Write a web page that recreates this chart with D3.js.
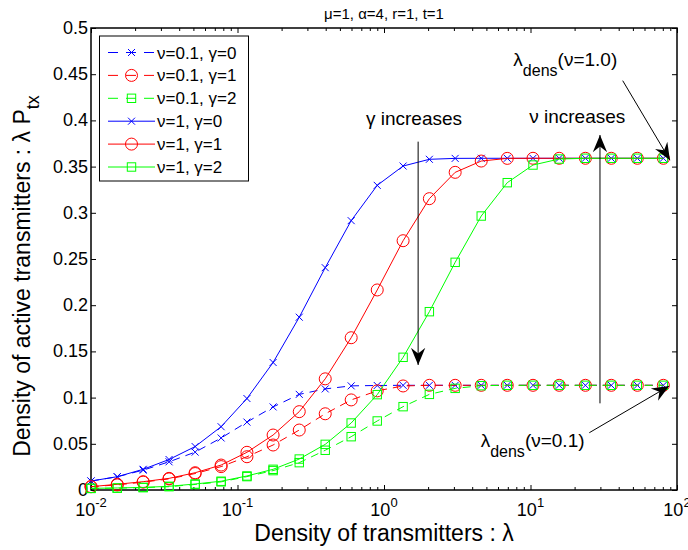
<!DOCTYPE html>
<html>
<head>
<meta charset="utf-8">
<script src="https://cdn.jsdelivr.net/npm/d3@7"></script>
<style>
  body { margin: 0; background: #fff; }
  text { font-family: "Liberation Sans", Arial, Helvetica, sans-serif; fill: #000; }
</style>
</head>
<body>
<div id="chart"></div>
<script>
// x values (density of transmitters lambda)
var lambda = [0.01, 0.0151, 0.0227, 0.0341, 0.0514, 0.0773, 0.116, 0.175, 0.264, 0.397,
  0.597, 0.899, 1.35, 2.04, 3.06, 4.61, 6.94, 10.4, 15.7, 23.7, 35.6, 53.6, 80.7];

// nu = 0.1 (dashed)
var nu01_g0 = [0.0097, 0.0143, 0.0215, 0.0305, 0.041, 0.0563, 0.0735, 0.0899, 0.1035, 0.1094,
  0.1127, 0.1131, 0.1133, 0.1133, 0.1133, 0.1133, 0.1133, 0.1133, 0.1133, 0.1133, 0.1133, 0.1133, 0.1133];
var nu01_g1 = [0.0036, 0.0055, 0.0085, 0.012, 0.0178, 0.0253, 0.036, 0.0487, 0.0649, 0.0825,
  0.0975, 0.1073, 0.1126, 0.1133, 0.1133, 0.1133, 0.1133, 0.1133, 0.1133, 0.1133, 0.1133, 0.1133, 0.1133];
var nu01_g2 = [0.0017, 0.002, 0.0026, 0.0036, 0.006, 0.0088, 0.0145, 0.021, 0.0296, 0.043,
  0.0577, 0.0747, 0.0902, 0.1035, 0.11, 0.1129, 0.1133, 0.1133, 0.1133, 0.1133, 0.1133, 0.1133, 0.1133];

// nu = 1 (solid)
var nu1_g0 = [0.0097, 0.0144, 0.0224, 0.033, 0.047, 0.0685, 0.099, 0.138, 0.187, 0.2406,
  0.2915, 0.3297, 0.3506, 0.3579, 0.3589, 0.359, 0.359, 0.359, 0.359, 0.359, 0.359, 0.359, 0.359];
var nu1_g1 = [0.0036, 0.0062, 0.009, 0.0126, 0.0187, 0.027, 0.0408, 0.0595, 0.0848, 0.1203,
  0.1648, 0.2165, 0.2698, 0.3153, 0.3438, 0.356, 0.3589, 0.359, 0.359, 0.359, 0.359, 0.359, 0.359];
var nu1_g2 = [0.0018, 0.0022, 0.0028, 0.004, 0.0065, 0.0095, 0.0152, 0.0224, 0.0335, 0.0494,
  0.0725, 0.1032, 0.1436, 0.193, 0.2464, 0.2965, 0.3326, 0.3517, 0.3582, 0.359, 0.359, 0.359, 0.359];

var seriesNames = ["ν=0.1, γ=0", "ν=0.1, γ=1", "ν=0.1, γ=2", "ν=1, γ=0", "ν=1, γ=1", "ν=1, γ=2"];
var seriesValues = [nu01_g0, nu01_g1, nu01_g2, nu1_g0, nu1_g1, nu1_g2];
var seriesColors = ["#0000ff", "#ff0000", "#00ff00", "#0000ff", "#ff0000", "#00ff00"];
var seriesMarkers = ["x", "o", "s", "x", "o", "s"];
var seriesDashed = [true, true, true, false, false, false];

// ticks
var xTicks = [0.01, 0.1, 1, 10, 100];
var xTickExp = ["-2", "-1", "0", "1", "2"];
var yTicks = [0, 0.05, 0.1, 0.15, 0.2, 0.25, 0.3, 0.35, 0.4, 0.45, 0.5];
var yTickLabels = ["0", "0.05", "0.1", "0.15", "0.2", "0.25", "0.3", "0.35", "0.4", "0.45", "0.5"];

// annotations in data coordinates
var arrows = [
  { x1: 1.71, y1: 0.377, x2: 1.71, y2: 0.1353 },
  { x1: 29.8, y1: 0.0938, x2: 29.8, y2: 0.3842 },
  { x1: 42.6, y1: 0.443, x2: 89.5, y2: 0.357 },
  { x1: 25.2, y1: 0.062, x2: 88.5, y2: 0.1126 }
];

var W = 688, H = 550;
var mLeft = 91, mRight = 677, mTop = 28, mBottom = 490;

var svg = d3.select("#chart")
  .append("svg")
  .attr("width", W)
  .attr("height", H);

svg.append("rect").attr("width", W).attr("height", H).attr("fill", "#fff");

var x = d3.scaleLog().domain([0.01, 100]).range([mLeft, mRight]);
var y = d3.scaleLinear().domain([0, 0.5]).range([mBottom, mTop]);

//minor ticks for the log axis
var minorTicks = x.ticks().filter(function(d) {
  return xTicks.some(function(t) { return Math.abs(t - d) / t < 1e-6; }) == false;
});

// bottom axis
var gx = svg.append("g")
  .attr("transform", "translate(0," + mBottom + ")")
  .call(d3.axisBottom(x).tickValues(xTicks).tickSize(-5).tickSizeOuter(0).tickFormat(""));
gx.append("g")
  .call(d3.axisBottom(x).tickValues(minorTicks).tickSize(-3).tickSizeOuter(0).tickFormat(""));
// top axis
var gxt = svg.append("g")
  .attr("transform", "translate(0," + mTop + ")")
  .call(d3.axisTop(x).tickValues(xTicks).tickSize(-5).tickSizeOuter(0).tickFormat(""));
gxt.append("g")
  .call(d3.axisTop(x).tickValues(minorTicks).tickSize(-3).tickSizeOuter(0).tickFormat(""));
// left and right axes
svg.append("g")
  .attr("transform", "translate(" + mLeft + ",0)")
  .call(d3.axisLeft(y).tickValues(yTicks).tickSize(-5).tickSizeOuter(0).tickFormat(""));
svg.append("g")
  .attr("transform", "translate(" + mRight + ",0)")
  .call(d3.axisRight(y).tickValues(yTicks).tickSize(-5).tickSizeOuter(0).tickFormat(""));

svg.selectAll(".domain").remove();
svg.selectAll(".tick line").attr("stroke", "#000").attr("stroke-width", 1);

// x tick labels 10^n
xTicks.forEach(function(d, i) {
  var t = svg.append("text")
    .attr("x", x(d))
    .attr("y", mBottom + 26)
    .attr("text-anchor", "middle")
    .style("font-size", "18px");
  t.append("tspan").text("10");
  t.append("tspan").attr("dy", -9).style("font-size", "13px").text(xTickExp[i]);
});

// y tick labels
yTicks.forEach(function(d, i) {
  svg.append("text")
    .attr("x", mLeft - 3)
    .attr("y", y(d) + 6)
    .attr("text-anchor", "end")
    .style("font-size", "18px")
    .text(yTickLabels[i]);
});

// plot box
svg.append("rect")
  .attr("x", mLeft).attr("y", mTop)
  .attr("width", mRight - mLeft).attr("height", mBottom - mTop)
  .attr("fill", "none")
  .attr("stroke", "#000")
  .attr("stroke-width", 1.5);

function drawMarker(g, type, cx, cy, color) {
  if (type == "x") {
    g.append("path")
      .attr("d", "M" + (cx - 3.5) + "," + (cy - 3.5) + "L" + (cx + 3.5) + "," + (cy + 3.5) +
        "M" + (cx - 3.5) + "," + (cy + 3.5) + "L" + (cx + 3.5) + "," + (cy - 3.5))
      .attr("stroke", color).attr("stroke-width", 1).attr("fill", "none");
  } else if (type == "o") {
    g.append("circle")
      .attr("cx", cx).attr("cy", cy).attr("r", 6)
      .attr("stroke", color).attr("stroke-width", 1).attr("fill", "none");
  } else {
    g.append("rect")
      .attr("x", cx - 4.2).attr("y", cy - 4.2).attr("width", 8.4).attr("height", 8.4)
      .attr("stroke", color).attr("stroke-width", 1).attr("fill", "none");
  }
}

var line = d3.line()
  .x(function(d) { return x(d[0]); })
  .y(function(d) { return y(d[1]); });

//draw series
seriesValues.forEach(function(vals, s) {
  var pts = vals.map(function(v, i) { return [lambda[i], v]; });
  var g = svg.append("g");
  g.append("path")
    .datum(pts)
    .attr("d", line)
    .attr("fill", "none")
    .attr("stroke", seriesColors[s])
    .attr("stroke-width", 1)
    .attr("stroke-dasharray", seriesDashed[s] ? "8,6" : null);
  pts.forEach(function(p) {
    drawMarker(g, seriesMarkers[s], x(p[0]), y(p[1]), seriesColors[s]);
  });
});

//legend
var legend = svg.append("g");
legend.append("rect")
  .attr("x", 99.5).attr("y", 36)
  .attr("width", 149).attr("height", 145)
  .attr("fill", "#fff").attr("stroke", "#000").attr("stroke-width", 1);
seriesNames.forEach(function(name, i) {
  var ly = 52.5 + i * 22.9;
  legend.append("line")
    .attr("x1", 108).attr("x2", 155)
    .attr("y1", ly).attr("y2", ly)
    .attr("stroke", seriesColors[i])
    .attr("stroke-width", 1)
    .attr("stroke-dasharray", seriesDashed[i] ? "10,8" : null);
  drawMarker(legend, seriesMarkers[i], 131.5, ly, seriesColors[i]);
  legend.append("text")
    .attr("x", 157)
    .attr("y", ly + 6)
    .style("font-size", "17px")
    .text(name);
});

// arrows
svg.append("defs").append("marker")
  .attr("id", "head")
  .attr("markerUnits", "userSpaceOnUse")
  .attr("markerWidth", 20).attr("markerHeight", 20)
  .attr("viewBox", "-12 -6 14 12")
  .attr("refX", 0).attr("refY", 0)
  .attr("orient", "auto")
  .append("path")
  .attr("d", "M0,0L-12,-5L-8,0L-12,5Z")
  .attr("fill", "#000");

arrows.forEach(function(a) {
  svg.append("line")
    .attr("x1", x(a.x1)).attr("y1", y(a.y1))
    .attr("x2", x(a.x2)).attr("y2", y(a.y2))
    .attr("stroke", "#000")
    .attr("stroke-width", 1)
    .attr("marker-end", "url(#head)");
});

svg.append("text")
  .attr("x", x(0.753)).attr("y", y(0.395))
  .style("font-size", "19px")
  .text("γ increases");
svg.append("text")
  .attr("x", x(9.8)).attr("y", y(0.3975))
  .style("font-size", "19px")
  .text("ν increases");

function densLabel(lx, ly, nu) {
  var t = svg.append("text")
    .attr("x", x(lx)).attr("y", y(ly))
    .style("font-size", "19px");
  t.append("tspan").text("λ");
  t.append("tspan").attr("dy", 10).style("font-size", "16px").text("dens");
  t.append("tspan").attr("dy", -10).text("(ν=" + nu + ")");
}
densLabel(7.64, 0.4589, "1.0");
densLabel(4.57, 0.0469, "0.1");

// title
svg.append("text")
  .attr("x", (mLeft + mRight) / 2)
  .attr("y", 19)
  .attr("text-anchor", "middle")
  .style("font-size", "15px")
  .text("μ=1, α=4, r=1, t=1");

// axis labels
svg.append("text")
  .attr("x", (mLeft + mRight) / 2)
  .attr("y", 541)
  .attr("text-anchor", "middle")
  .style("font-size", "23px")
  .text("Density of transmitters : λ");

var yl = svg.append("text")
  .attr("transform", "translate(30," + 276 + ") rotate(-90)")
  .attr("text-anchor", "middle")
  .style("font-size", "23px");
yl.append("tspan").text("Density of active transmitters : λ P");
yl.append("tspan").attr("dy", 9).style("font-size", "18px").text("tx");
</script>
</body>
</html>
